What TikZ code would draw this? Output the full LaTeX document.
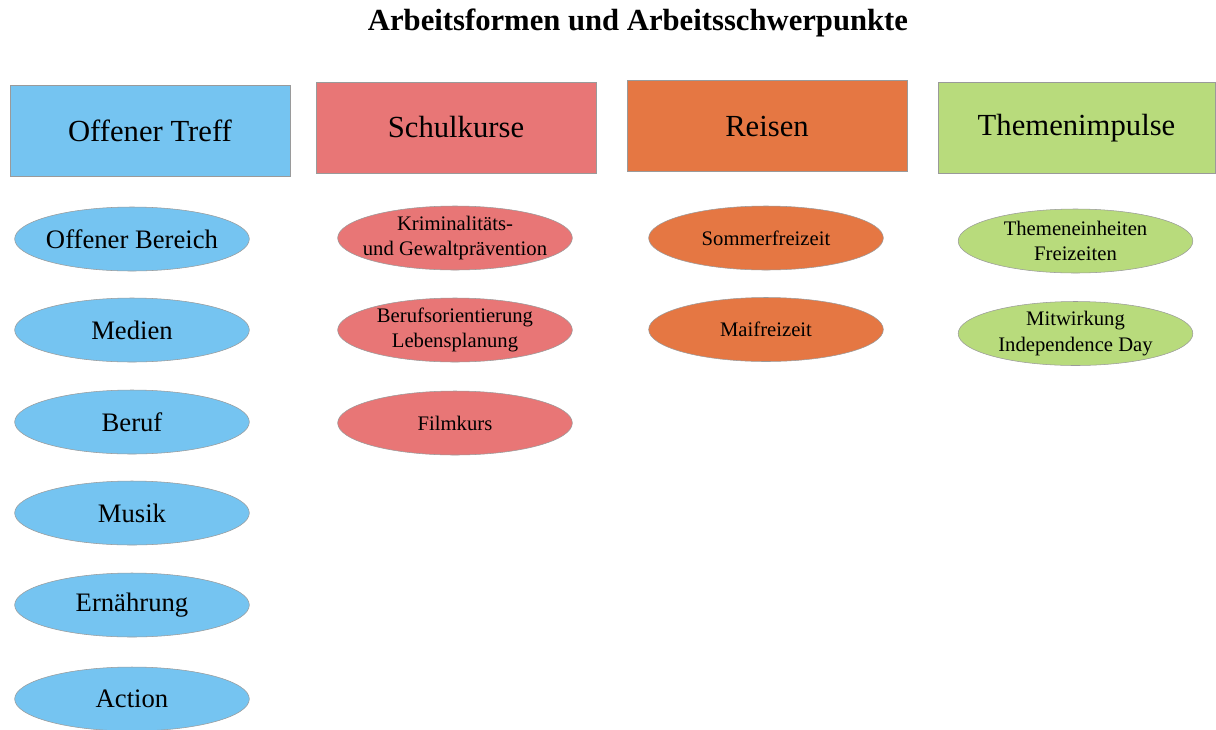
\documentclass[tikz,border=0pt]{standalone}
\usepackage{fontspec}
\setmainfont{Liberation Serif}
\usetikzlibrary{shapes.geometric}
\definecolor{cblue}{HTML}{75C4F1}
\definecolor{cred}{HTML}{E87676}
\definecolor{corange}{HTML}{E57743}
\definecolor{cgreen}{HTML}{B8DB7C}
\definecolor{cedge}{HTML}{9A9A9A}
\tikzset{
  head/.style={rectangle, draw=cedge, line width=0.5pt, minimum width=210pt, minimum height=68pt, inner sep=0pt, font=\fontsize{23}{26}\selectfont},
  item/.style={ellipse, draw=cedge, line width=0.4pt, minimum width=176pt, minimum height=48pt, inner ysep=-4pt, inner xsep=-18pt, align=center, font=\fontsize{15.5}{19}\selectfont},
  bigitem/.style={item, font=\fontsize{20}{22}\selectfont},
}
\begin{document}
\begin{tikzpicture}[x=0.75pt,y=-0.75pt]
\useasboundingbox (0,0) rectangle (1216,729);
\clip (0,0) rectangle (1216,729);
\node[font=\bfseries\fontsize{23}{26}\selectfont] (title) at (638,23) {Arbeitsformen und Arbeitsschwerpunkte};
% headers
\node[head, fill=cblue] (h1) at (150,130.5) {Offener Treff};
\node[head, fill=cred] (h2) at (456,127.5) {Schulkurse};
\node[head, fill=corange] (h3) at (767,126) {Reisen};
\node[head, fill=cgreen, minimum width=208pt] (h4) at (1076.5,128) {Themenimpulse};
% column 1
\node[bigitem, fill=cblue] (a1) at (132,239) {Offener Bereich};
\node[bigitem, fill=cblue] (a2) at (132,330) {Medien};
\node[bigitem, fill=cblue] (a3) at (132,422) {Beruf};
\node[bigitem, fill=cblue] (a4) at (132,513) {Musik};
\node[bigitem, fill=cblue] (a5) at (132,605) {Ernährung};
\node[bigitem, fill=cblue] (a6) at (132,699) {Action};
% column 2
\node[item, fill=cred] (b1) at (455,238) {Kriminalitäts-\\und Gewaltprävention};
\node[item, fill=cred] (b2) at (455,330) {Berufsorientierung\\Lebensplanung};
\node[item, fill=cred] (b3) at (455,423) {Filmkurs};
% column 3
\node[item, fill=corange] (c1) at (766,238) {Sommerfreizeit};
\node[item, fill=corange] (c2) at (766,329.5) {Maifreizeit};
% column 4
\node[item, fill=cgreen] (d1) at (1075.5,241) {Themeneinheiten\\Freizeiten};
\node[item, fill=cgreen] (d2) at (1075.5,333.5) {Mitwirkung\\Independence Day};
\end{tikzpicture}
\end{document}
